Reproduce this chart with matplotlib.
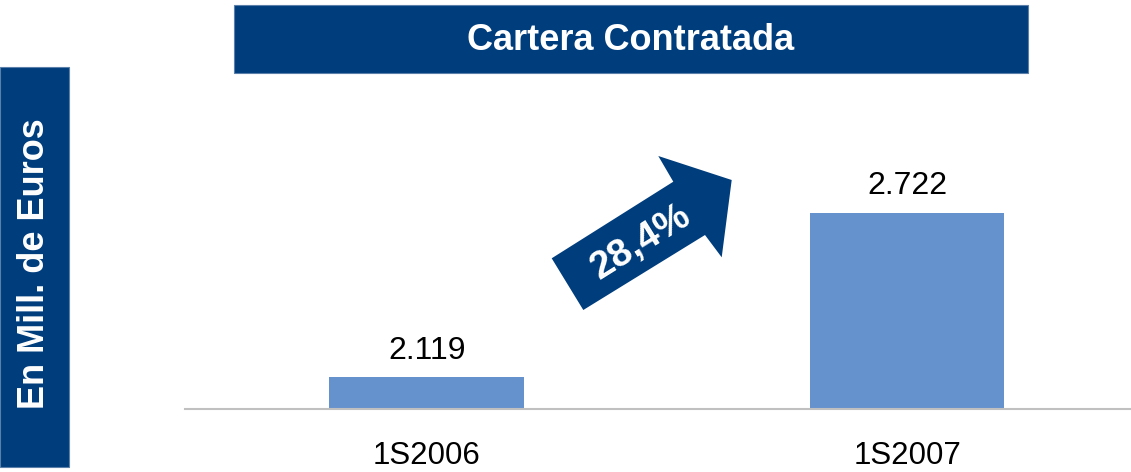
import numpy as np
import matplotlib
matplotlib.use("Agg")
import matplotlib.pyplot as plt
from matplotlib.patches import Rectangle, Polygon

plt.rcParams['font.family'] = ['Liberation Sans', 'DejaVu Sans']

periods = ["1S2006", "1S2007"]
cartera = [2119, 2722]
growth_label = "28,4%"
title = "Cartera Contratada"
ylabel = "En Mill. de Euros"

navy = "#003d7d"
bar_blue = "#6591cd"

W, H = 1131, 472
fig = plt.figure(figsize=(W / 100, H / 100), dpi=100)

def px(x, y):
    # pixel coords (y measured from top) -> figure fraction
    return (x / W, 1 - y / H)

# main axes: baseline at y=409 px, starts at x=185 px
ax = fig.add_axes([185 / W, (H - 409) / H, 1 - 185 / W, 309 / H])
x = np.arange(len(periods))
bars = ax.bar(x, cartera, width=0.405, color=bar_blue, zorder=2)
ax.set_ylim(2000, 3136)
ax.set_xlim(-0.503, 1.466)
for s in ["top", "right", "left"]:
    ax.spines[s].set_visible(False)
ax.spines["bottom"].set_color("#c0c0c0")
ax.spines["bottom"].set_linewidth(1.5)
ax.set_yticks([])
ax.set_xticks(x)
ax.set_xticklabels(periods, fontsize=22.5)
ax.tick_params(axis="x", length=0, pad=23)
ax.patch.set_alpha(0)

for xi, v in zip(x, cartera):
    lbl = f"{v:,}".replace(",", ".")
    ax.annotate(lbl, (xi, v), xytext=(0, 8), textcoords="offset points",
                ha="center", va="bottom", fontsize=23)

# title box
x0, y0 = px(234, 73)
fig.patches.append(Rectangle((x0, y0), (1028 - 234) / W, (73 - 5) / H,
                             transform=fig.transFigure, facecolor=navy,
                             edgecolor="#5a7fa8", linewidth=0.8))
fig.text(*px(631, 41), title, color="white", fontsize=26, fontweight="bold",
         ha="center", va="center")

# y label box
x0, y0 = px(0, 467)
fig.patches.append(Rectangle((x0, y0), 69 / W, (467 - 67) / H,
                             transform=fig.transFigure, facecolor=navy,
                             edgecolor="#5a7fa8", linewidth=0.8))
fig.text(*px(35, 264), ylabel, color="white", fontsize=26, fontweight="bold",
         ha="center", va="center", rotation=90)

# growth arrow
arrow_pts = [(551.7, 258.3), (673.3, 181.7), (658.3, 156), (731.7, 180),
             (721.7, 257.3), (705, 235), (583.3, 310)]
fig.patches.append(Polygon([px(a, b) for a, b in arrow_pts], closed=True,
                           transform=fig.transFigure, facecolor=navy,
                           edgecolor="none"))
fig.text(*px(641, 242), growth_label, color="white", fontsize=28,
         fontweight="bold", ha="center", va="center", rotation=32,
         rotation_mode="anchor")

fig.savefig("out.png", dpi=100)
